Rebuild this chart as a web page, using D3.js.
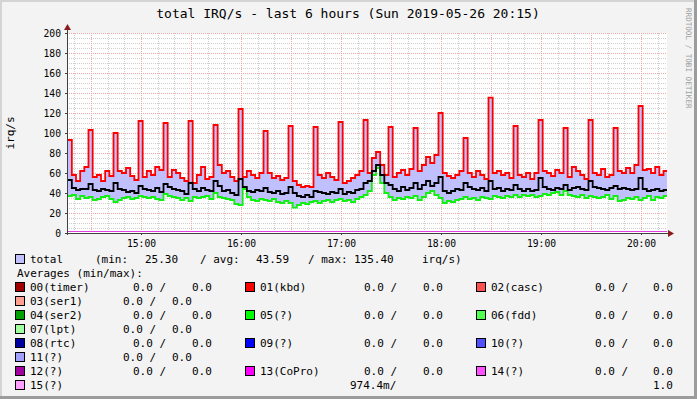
<!DOCTYPE html>
<html>
  <head>
    <meta charset="utf-8"/>
    <title>total IRQ/s</title>
    <style>
      body { margin: 0; background: #f3f3f3; }
      svg text { font-family: "DejaVu Sans Mono", monospace; fill: #000; }
      .grid-minor { stroke: #cfcfcf; stroke-width: 1; stroke-dasharray: 1,1; shape-rendering: crispEdges; }
      .grid-major { stroke: #f2a6a6; stroke-width: 1; stroke-dasharray: 1,1; shape-rendering: crispEdges; }
      .axis text { font-size: 9.7px; }
      .axis line { stroke: #404040; shape-rendering: crispEdges; }
      .legend text { font-size: 11px; white-space: pre; }
    </style>
    <script src="https://cdn.jsdelivr.net/npm/d3@7"></script>
  </head>
  <body>
    <svg id="chart" width="697" height="399"></svg>

    <script>
      // rrd samples, one every 150 s starting 14:16
      var startTime = new Date(2019, 4, 26, 14, 16, 0);
      var stepSeconds = 150;

      var maxValues = [
        93, 58, 52, 62, 66, 103, 56, 58, 52, 62, 57,
        100, 62, 60, 65, 57, 53, 112, 56, 62, 58, 66, 63,
        110, 56, 63, 60, 55, 52, 112, 50, 58, 66, 54, 56,
        108, 68, 60, 62, 56, 52, 124, 56, 62, 58, 55, 60,
        102, 60, 55, 57, 53, 55, 107, 52, 48, 46, 47, 46,
        106, 58, 55, 60, 56, 53, 111, 50, 52, 55, 58, 62,
        113, 60, 75, 81, 68, 58, 106, 56, 60, 63, 58, 64,
        105, 62, 68, 76, 70, 78, 120, 60, 57, 55, 58, 62,
        95, 60, 56, 62, 58, 54, 135.4, 60, 62, 58, 60, 55,
        107, 58, 56, 60, 54, 60, 113, 62, 60, 57, 63, 60,
        105, 56, 66, 62, 58, 54, 113, 60, 58, 64, 56, 58,
        105, 62, 60, 65, 60, 68, 127, 63, 64, 60, 66, 58, 62
      ];

      var avgValues = [
        53, 45, 43, 44, 44, 49, 43, 42, 44, 43, 42,
        50, 44, 43, 41, 42, 40, 47, 44, 43, 42, 45, 41,
        49, 46, 44, 43, 42, 39, 50, 44, 42, 45, 43, 42,
        52, 47, 42, 43, 40, 38, 54, 46, 42, 41, 43, 42,
        45, 41, 40, 42, 39, 40, 46, 40, 37, 36, 38, 36,
        42, 41, 40, 39, 41, 40, 44, 39, 41, 40, 43, 44,
        50, 52, 62, 68, 58, 50, 48, 44, 42, 46, 43, 45,
        50, 44, 48, 52, 47, 50, 56, 42, 40, 42, 44, 43,
        50, 46, 44, 43, 45, 42, 52, 44, 45, 42, 44, 43,
        48, 44, 42, 44, 42, 43, 55, 46, 44, 43, 45, 44,
        48, 43, 45, 46, 44, 43, 52, 46, 45, 44, 43, 45,
        47, 44, 45, 44, 43, 44, 55, 44, 42, 43, 44, 42, 43
      ];

      var minValues = [
        37, 38, 34, 37, 35, 36, 33, 34, 36, 37, 34,
        31, 33, 35, 36, 34, 35, 37, 36, 35, 36, 34, 33,
        39, 37, 36, 35, 33, 35, 32, 36, 35, 36, 37, 34,
        40, 36, 35, 34, 33, 29, 28, 44, 36, 33, 32, 34,
        33, 32, 34, 31, 30, 32, 30, 25.3, 28, 30, 29, 31,
        32, 30, 32, 33, 31, 33, 34, 32, 33, 31, 34, 36,
        38, 42, 58, 65, 50, 40, 36, 33, 35, 34, 36, 35,
        37, 33, 36, 40, 42, 38, 35, 30, 32, 31, 33, 34,
        36, 34, 35, 33, 36, 35, 34, 37, 36, 35, 37, 36,
        38, 36, 38, 37, 38, 36, 37, 39, 38, 40, 41, 38,
        42, 38, 37, 36, 38, 35, 37, 36, 35, 36, 38, 34,
        37, 32, 33, 35, 34, 36, 33, 35, 37, 33, 36, 35, 37
      ];

      var irq15Value = 1.0;

      var yTicks = [0, 20, 40, 60, 80, 100, 120, 140, 160, 180, 200];

      var totalStats = ["25.30", "43.59", "135.40"];

      var irqNames = ["00(timer)", "01(kbd)", "02(casc)", "03(ser1)", "04(ser2)", "05(?)", "06(fdd)", "07(lpt)",
                      "08(rtc)", "09(?)", "10(?)", "11(?)", "12(?)", "13(CoPro)", "14(?)", "15(?)"];
      var irqColors = ["#a00000", "#ff0000", "#ff5050", "#ffa090", "#00a000", "#00ff00", "#50ff50", "#a0ffa0",
                       "#0000a0", "#0000ff", "#5050ff", "#a0a0ff", "#a000a0", "#ff00ff", "#ff50ff", "#ffa0ff"];
      var irqMin = ["0.0", "0.0", "0.0", "0.0", "0.0", "0.0", "0.0", "0.0",
                    "0.0", "0.0", "0.0", "0.0", "0.0", "0.0", "0.0", "974.4m"];
      var irqMax = ["0.0", "0.0", "0.0", "0.0", "0.0", "0.0", "0.0", "0.0",
                    "0.0", "0.0", "0.0", "0.0", "0.0", "0.0", "0.0", "1.0"];
      var legendRows = [[0, 1, 2], [3], [4, 5, 6], [7], [8, 9, 10], [11], [12, 13, 14], [15]];

      var W = 697, H = 399;
      var plotL = 67, plotR = 667, plotT = 33, plotB = 233;

      var svg = d3.select("#chart");

      // background + rrdtool style frame
      svg.append("rect").attr("width", W).attr("height", H).attr("fill", "#f3f3f3");
      svg.append("rect").attr("x", 0).attr("y", 0).attr("width", W).attr("height", 2).attr("fill", "#d4d4d4");
      svg.append("rect").attr("x", 0).attr("y", 0).attr("width", 2).attr("height", H).attr("fill", "#d4d4d4");
      svg.append("rect").attr("x", W - 3).attr("y", 0).attr("width", 3).attr("height", H).attr("fill", "#9c9c9c");
      svg.append("rect").attr("x", 0).attr("y", H - 3).attr("width", W).attr("height", 3).attr("fill", "#9c9c9c");

      var times = maxValues.map(function(d, i) {
        return new Date(startTime.getTime() + i * stepSeconds * 1000);
      });
      var endTime = new Date(startTime.getTime() + maxValues.length * stepSeconds * 1000);

      var x = d3.scaleTime()
        .domain([new Date(2019, 4, 26, 14, 15, 36), new Date(2019, 4, 26, 20, 15, 36)])
        .range([plotL, plotR]);
      var y = d3.scaleLinear().domain([0, 200]).range([plotB, plotT]);

      // canvas
      svg.append("rect")
        .attr("x", plotL).attr("y", plotT)
        .attr("width", plotR - plotL).attr("height", plotB - plotT)
        .attr("fill", "#ffffff");

      // grid
      var grid = svg.append("g");
      var yMinor = d3.range(0, 201, 5).filter(function(v) { return v % 20 !== 0; });
      grid.selectAll(".hmin").data(yMinor).enter().append("line")
        .attr("class", "grid-minor")
        .attr("x1", plotL).attr("x2", plotR)
        .attr("y1", function(d) { return Math.round(y(d)) + 0.5; })
        .attr("y2", function(d) { return Math.round(y(d)) + 0.5; });

      var xMinor = d3.timeMinute.every(10).range(x.domain()[0], x.domain()[1])
        .filter(function(t) { return t.getMinutes() % 30 !== 0; });
      grid.selectAll(".vmin").data(xMinor).enter().append("line")
        .attr("class", "grid-minor")
        .attr("y1", plotT).attr("y2", plotB)
        .attr("x1", function(d) { return Math.round(x(d)) + 0.5; })
        .attr("x2", function(d) { return Math.round(x(d)) + 0.5; });

      grid.selectAll(".hmaj").data(yTicks.slice(1)).enter().append("line")
        .attr("class", "grid-major")
        .attr("x1", plotL).attr("x2", plotR)
        .attr("y1", function(d) { return Math.round(y(d)) + 0.5; })
        .attr("y2", function(d) { return Math.round(y(d)) + 0.5; });

      var xMajor = d3.timeMinute.every(30).range(x.domain()[0], x.domain()[1]);
      grid.selectAll(".vmaj").data(xMajor).enter().append("line")
        .attr("class", "grid-major")
        .attr("y1", plotT).attr("y2", plotB)
        .attr("x1", function(d) { return Math.round(x(d)) + 0.5; })
        .attr("x2", function(d) { return Math.round(x(d)) + 0.5; });

      // data
      svg.append("clipPath").attr("id", "plotclip")
        .append("rect").attr("x", plotL).attr("y", plotT - 2)
        .attr("width", plotR - plotL).attr("height", plotB - plotT + 2);

      var rows = times.map(function(t, i) {
        return { t: t, max: maxValues[i], avg: avgValues[i], min: minValues[i] };
      });
      var last = rows[rows.length - 1];
      rows.push({ t: endTime, max: last.max, avg: last.avg, min: last.min });

      var plot = svg.append("g").attr("clip-path", "url(#plotclip)");

      plot.append("path")
        .datum(rows)
        .attr("fill", "#c0c0ff")
        .attr("d", d3.area().curve(d3.curveStepAfter)
          .x(function(d) { return x(d.t); })
          .y0(function(d) { return y(d.min); })
          .y1(function(d) { return y(d.max); }));

      function drawLine(key, colour) {
        plot.append("path")
          .datum(rows)
          .attr("fill", "none")
          .attr("stroke", colour)
          .attr("stroke-width", 1.8)
          .attr("d", d3.line().curve(d3.curveStepAfter)
            .x(function(d) { return x(d.t); })
            .y(function(d) { return y(d[key]); }));
      }
      drawLine("max", "#ff0000");
      drawLine("min", "#10f010");
      drawLine("avg", "#000000");

      plot.append("line")
        .attr("x1", plotL).attr("x2", plotR)
        .attr("y1", Math.round(y(irq15Value)) - 0.5).attr("y2", Math.round(y(irq15Value)) - 0.5)
        .attr("stroke", "#e040e0").attr("stroke-width", 1);

      // axes
      var yAxis = svg.append("g").attr("class", "axis")
        .attr("transform", "translate(" + plotL + ",0)")
        .call(d3.axisLeft(y).tickValues(yTicks).tickSize(2).tickPadding(4));
      yAxis.select(".domain").remove();

      var xAxis = svg.append("g").attr("class", "axis")
        .attr("transform", "translate(0," + plotB + ")")
        .call(d3.axisBottom(x).ticks(d3.timeHour.every(1)).tickFormat(d3.timeFormat("%H:%M"))
          .tickSize(2).tickPadding(5));
      xAxis.select(".domain").remove();

      svg.append("line")
        .attr("x1", plotL + 0.5).attr("x2", plotL + 0.5).attr("y1", plotB + 2).attr("y2", plotT - 4)
        .attr("stroke", "#404040");
      svg.append("line")
        .attr("x1", plotL - 2).attr("x2", plotR + 4).attr("y1", plotB + 0.5).attr("y2", plotB + 0.5)
        .attr("stroke", "#404040");
      svg.append("path")
        .attr("d", "M" + (plotL - 3) + "," + (plotT - 3) + "L" + (plotL + 0.5) + "," + (plotT - 9) + "L" + (plotL + 4) + "," + (plotT - 3) + "Z")
        .attr("fill", "#8b1c1c");
      svg.append("path")
        .attr("d", "M" + (plotR + 1) + "," + (plotB - 3) + "L" + (plotR + 7) + "," + (plotB + 0.5) + "L" + (plotR + 1) + "," + (plotB + 4) + "Z")
        .attr("fill", "#8b1c1c");

      // titles
      svg.append("text")
        .attr("x", 348).attr("y", 18)
        .attr("text-anchor", "middle")
        .attr("font-size", "13px")
        .text("total IRQ/s - last 6 hours (Sun 2019-05-26 20:15)");

      svg.append("text")
        .attr("transform", "translate(14,133) rotate(-90)")
        .attr("text-anchor", "middle")
        .attr("font-size", "11px")
        .text("irq/s");

      svg.append("text")
        .attr("transform", "translate(686,8) rotate(90)")
        .attr("font-size", "7.6px")
        .style("fill", "#a0a0a0")
        .text("RRDTOOL / TOBI OETIKER");

      // legend
      var legend = svg.append("g").attr("class", "legend");

      function box(xp, yc, colour) {
        legend.append("rect")
          .attr("x", xp + 0.5).attr("y", yc - 4.5)
          .attr("width", 9).attr("height", 9)
          .attr("fill", colour).attr("stroke", "#000");
      }
      function label(xp, yc, s) {
        legend.append("text").attr("x", xp).attr("y", yc + 4).text(s);
      }

      box(15, 259, "#c0c0ff");
      label(30, 259, "total");
      label(95, 259, "(min:");
      label(145, 259, totalStats[0]);
      label(200, 259, "/ avg:");
      label(256, 259, totalStats[1]);
      label(308, 259, "/ max:");
      label(354, 259, totalStats[2]);
      label(422, 259, "irq/s)");

      label(17, 273, "Averages (min/max):");

      var boxX = [15, 245, 476], nameX = [30, 260, 491], minX = [133, 364, 595], maxX = [192, 423, 653];
      legendRows.forEach(function(row, r) {
        var yc = 287 + r * 14;
        row.forEach(function(k, c) {
          box(boxX[c], yc, irqColors[k]);
          label(nameX[c], yc, irqNames[k]);
          if (row.length === 3) {
            label(minX[c], yc, irqMin[k] + " /");
            label(maxX[c], yc, irqMax[k]);
          } else if (k === 15) {
            label(350, yc, irqMin[k] + "/");
            label(653, yc, irqMax[k]);
          } else {
            label(123, yc, irqMin[k] + " /");
            label(172, yc, irqMax[k]);
          }
        });
      });
    </script>
  </body>
</html>
